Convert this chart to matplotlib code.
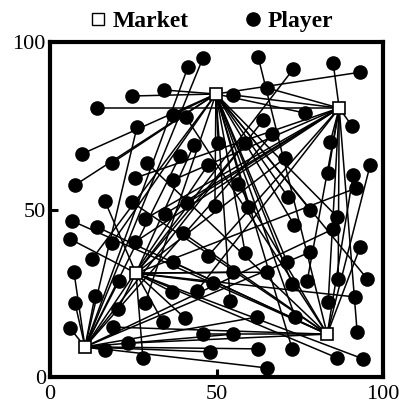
import matplotlib
matplotlib.use("Agg")
import matplotlib.pyplot as plt
from matplotlib.lines import Line2D

# Market locations
market_x = [10.5, 25.8, 49.8, 86.8, 83.2]
market_y = [9.0, 31.0, 84.5, 80.3, 12.8]

# Player locations and the market each player is linked to
player_x = [45.9, 41.4, 24.6, 34.2, 14.1, 55.0, 62.5, 65.2, 73.0, 85.0,
            93.1, 90.7, 64.0, 36.9, 40.8, 26.1, 9.6, 18.6, 7.5, 29.1,
            25.5, 39.0, 36.9, 43.2, 50.5, 47.4, 16.5, 24.6, 41.1, 49.5,
            58.6, 66.7, 84.1, 70.6, 56.5, 83.5, 91.0, 91.9, 96.1, 59.5,
            71.5, 6.6, 14.1, 28.5, 34.5, 78.1, 86.2, 85.0, 73.3, 6.0,
            18.6, 25.5, 39.9, 12.6, 7.2, 58.6, 47.4, 71.2, 78.1, 93.1,
            20.7, 36.9, 55.0, 65.2, 72.7, 77.2, 86.5, 95.2, 7.5, 13.5,
            20.4, 28.5, 36.6, 44.1, 48.9, 54.1, 83.5, 91.6, 6.0, 18.9,
            33.9, 40.5, 62.2, 73.6, 45.9, 55.0, 23.4, 92.2, 16.5, 27.9,
            48.0, 62.5, 72.7, 86.2, 94.0, 65.2, 76.6]
player_y = [95.2, 92.5, 83.9, 85.7, 80.3, 84.2, 95.5, 86.3, 91.9, 93.7,
            91.0, 74.9, 76.7, 78.2, 77.6, 74.6, 66.6, 63.9, 57.3, 63.9,
            59.4, 66.0, 58.8, 69.3, 69.9, 63.3, 52.5, 52.2, 51.9, 51.0,
            69.9, 72.5, 70.1, 65.4, 57.6, 60.9, 60.3, 56.4, 63.3, 50.7,
            53.7, 46.6, 44.8, 47.2, 48.7, 49.9, 47.8, 44.2, 45.4, 41.2,
            40.0, 40.3, 43.0, 35.2, 31.3, 37.0, 36.1, 34.3, 37.3, 38.8,
            28.7, 34.3, 31.3, 31.3, 27.8, 28.7, 29.3, 29.3, 22.1, 24.2,
            20.3, 22.1, 25.4, 25.7, 28.1, 22.7, 22.4, 23.9, 14.6, 14.9,
            16.4, 17.6, 17.9, 17.9, 12.8, 12.8, 10.1, 13.4, 8.1, 5.7,
            7.5, 8.4, 8.4, 5.7, 5.4, 2.7, 78.8]
player_market = [0, 0, 2, 2, 3, 3, 4, 3, 1, 3,
                 2, 3, 0, 2, 4, 0, 2, 2, 2, 4,
                 3, 0, 3, 1, 2, 0, 1, 4, 3, 2,
                 1, 0, 3, 1, 4, 3, 4, 1, 4, 2,
                 2, 4, 4, 3, 3, 2, 2, 0, 2, 1,
                 2, 3, 4, 2, 0, 2, 3, 2, 0, 4,
                 0, 4, 1, 1, 2, 3, 3, 2, 0, 0,
                 1, 2, 1, 3, 1, 2, 3, 1, 0, 4,
                 1, 1, 0, 2, 4, 0, 4, 3, 0, 1,
                 0, 0, 2, 1, 1, 0, 2]

legend_labels = ["Market", "Player"]
ticks = [0, 50, 100]

fig = plt.figure(figsize=(3.99, 4.05), dpi=100)
ax = fig.add_axes([0.1253, 0.0691, 0.835, 0.827])

for px, py, m in zip(player_x, player_y, player_market):
    ax.plot([px, market_x[m]], [py, market_y[m]], color="black",
            linewidth=1.1, zorder=1, solid_capstyle="butt")

ax.plot(player_x, player_y, linestyle="none", marker="o", markersize=9.5,
        markerfacecolor="black", markeredgecolor="black", zorder=2)
ax.plot(market_x, market_y, linestyle="none", marker="s", markersize=8.5,
        markerfacecolor="white", markeredgecolor="black",
        markeredgewidth=1.2, zorder=3)

ax.set_xlim(0, 100)
ax.set_ylim(0, 100)
ax.set_xticks(ticks)
ax.set_yticks(ticks)
for s in ax.spines.values():
    s.set_linewidth(3)
ax.tick_params(direction="in", length=6, width=2.2, labelsize=16,
               top=False, right=False)
ax.tick_params(axis="x", pad=6)
ax.tick_params(axis="y", pad=3)
for lab in ax.get_xticklabels() + ax.get_yticklabels():
    lab.set_fontfamily("Liberation Serif")

handles = [
    Line2D([], [], linestyle="none", marker="s", markersize=8,
           markerfacecolor="white", markeredgecolor="black",
           markeredgewidth=1.0),
    Line2D([], [], linestyle="none", marker="o", markersize=9.5,
           markerfacecolor="black", markeredgecolor="black"),
]
fig.legend(handles, legend_labels, loc="center", bbox_to_anchor=(0.526, 0.947),
           ncol=2, frameon=False, handletextpad=0.1, columnspacing=2.25,
           handlelength=1.0,
           prop={"family": "Liberation Serif", "weight": "bold", "size": 17})

fig.savefig("out.png", dpi=100)
